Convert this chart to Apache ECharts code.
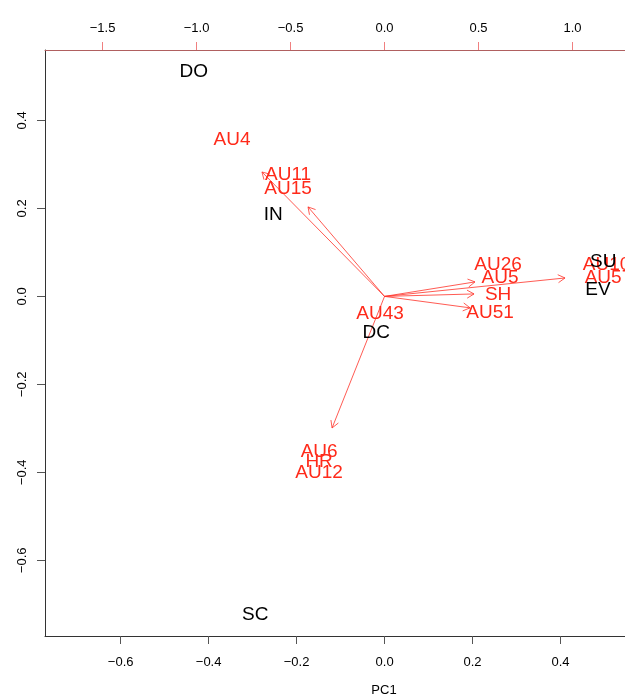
<!DOCTYPE html>
<html>
<head>
<meta charset="utf-8">
<script src="https://cdn.jsdelivr.net/npm/echarts@6/dist/echarts.min.js"></script>
<style>
  html, body { margin: 0; padding: 0; background: #fff; }
  #chart { width: 625px; height: 698px; }
</style>
</head>
<body>
<div id="chart"></div>
<script>
// scores (black labels), PC1 / PC2 scale
const scoreNames = ['DO', 'IN', 'DC', 'SC', 'SU', 'EV'];
const scoreX = [-0.434, -0.253, -0.019, -0.294, 0.497, 0.485];
const scoreY = [0.510, 0.185, -0.083, -0.724, 0.078, 0.015];

// loadings (red labels), top / right scale
const loadNames = ['AU4', 'AU11', 'AU15', 'AU26', 'AU5', 'SH', 'AU51', 'AU43', 'AU6', 'HR', 'AU12', 'AU10', 'AU57'];
const loadX = [-0.811, -0.513, -0.513, 0.604, 0.614, 0.604, 0.561, -0.024, -0.348, -0.348, -0.348, 1.181, 1.191];
const loadY = [0.832, 0.646, 0.572, 0.168, 0.098, 0.008, -0.088, -0.093, -0.827, -0.880, -0.939, 0.168, 0.098];

// arrow tips, top / right scale
const arrowX = [-0.652, -0.407, -0.279, 0.481, 0.476, 0.455, 0.960];
const arrowY = [0.662, 0.476, -0.700, 0.077, 0.013, -0.061, 0.098];

// tick labels
const xTicks = [-0.6, -0.4, -0.2, 0, 0.2, 0.4];
const yTicks = [-0.6, -0.4, -0.2, 0, 0.2, 0.4];
const topTicks = [-1.5, -1, -0.5, 0, 0.5, 1];

const RED = '#ff2a1a';
const FONT = '"Liberation Sans", Arial, Helvetica, sans-serif';

function fmt(v) {
  return v.toFixed(1).replace('-', '\u2212');
}

const chart = echarts.init(document.getElementById('chart'));

function textItem(color) {
  return function (params, api) {
    const p = api.coord([api.value(0), api.value(1)]);
    return {
      type: 'text',
      x: p[0],
      y: p[1],
      style: {
        text: api.value(2),
        fill: color,
        font: '19px ' + FONT,
        align: 'center',
        verticalAlign: 'middle'
      }
    };
  };
}

function arrowItem(params, api) {
  const p0 = api.coord([0, 0]);
  const p1 = api.coord([api.value(0), api.value(1)]);
  const ang = Math.atan2(p1[1] - p0[1], p1[0] - p0[0]);
  const len = 8, spread = Math.PI / 6;
  const a1 = [p1[0] - len * Math.cos(ang - spread), p1[1] - len * Math.sin(ang - spread)];
  const a2 = [p1[0] - len * Math.cos(ang + spread), p1[1] - len * Math.sin(ang + spread)];
  const style = { stroke: 'rgba(255,50,40,0.8)', lineWidth: 1, fill: null };
  return {
    type: 'group',
    children: [
      { type: 'line', shape: { x1: p0[0], y1: p0[1], x2: p1[0], y2: p1[1] }, style: style },
      { type: 'polyline', shape: { points: [a1, p1, a2] }, style: style }
    ]
  };
}

chart.setOption({
  animation: false,
  backgroundColor: '#fff',
  grid: { left: 45, top: 50, right: 0, bottom: 62, show: false, outerBoundsMode: 'none', containLabel: false },
  xAxis: [
    {
      type: 'value', min: -0.772, max: 0.5466, position: 'bottom',
      name: 'PC1', nameLocation: 'middle', nameGap: 48,
      // the full R plot runs past the right edge, so PC1 sits over x = 0
      nameTextStyle: { fontFamily: FONT, fontSize: 13, color: '#000', padding: [0, 0, 0, 98] },
      axisLine: { show: true, onZero: false, lineStyle: { color: '#333', width: 1 } },
      axisTick: { show: true, length: 8, customValues: xTicks, lineStyle: { color: '#555' } },
      axisLabel: { customValues: xTicks, formatter: fmt, margin: 20, fontFamily: FONT, fontSize: 13, color: '#000' },
      splitLine: { show: false }
    },
    {
      type: 'value', min: -1.806, max: 1.279, position: 'top',
      axisLine: { show: true, onZero: false, lineStyle: { color: '#b06060', width: 1 } },
      axisTick: { show: true, length: 8, customValues: topTicks, lineStyle: { color: '#f08080' } },
      axisLabel: { customValues: topTicks, formatter: fmt, margin: 15, fontFamily: FONT, fontSize: 13, color: '#000' },
      splitLine: { show: false }
    }
  ],
  yAxis: [
    {
      type: 'value', min: -0.772, max: 0.560, position: 'left',
      axisLine: { show: true, onZero: false, lineStyle: { color: '#333', width: 1 } },
      axisTick: { show: true, length: 8, customValues: yTicks, lineStyle: { color: '#555' } },
      axisLabel: { customValues: yTicks, formatter: fmt, rotate: 90, margin: 16, fontFamily: FONT, fontSize: 13, color: '#000' },
      splitLine: { show: false }
    },
    {
      type: 'value', min: -1.807, max: 1.311, position: 'right', show: false,
      axisLine: { onZero: false },
      splitLine: { show: false }
    }
  ],
  series: [
    {
      type: 'custom', xAxisIndex: 1, yAxisIndex: 1,
      renderItem: arrowItem,
      data: arrowX.map((x, i) => [x, arrowY[i]]),
      silent: true, z: 2
    },
    {
      type: 'custom', xAxisIndex: 1, yAxisIndex: 1,
      renderItem: textItem(RED),
      data: loadNames.map((n, i) => [loadX[i], loadY[i], n]),
      silent: true, z: 3
    },
    {
      type: 'custom', xAxisIndex: 0, yAxisIndex: 0,
      renderItem: textItem('#000'),
      data: scoreNames.map((n, i) => [scoreX[i], scoreY[i], n]),
      silent: true, z: 4
    }
  ]
});
</script>
</body>
</html>
